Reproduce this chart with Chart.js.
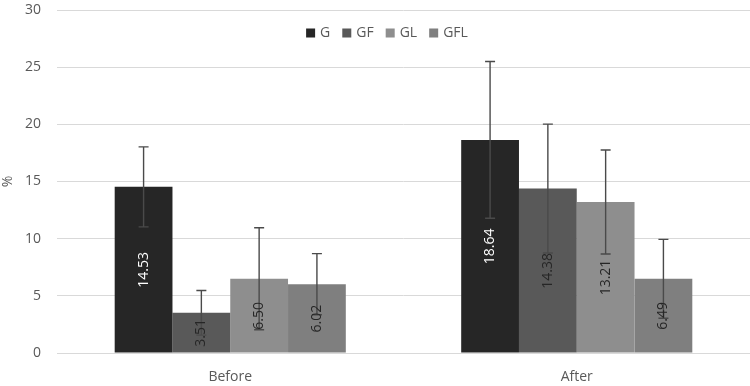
<!DOCTYPE html>
<html>
<head>
<meta charset="utf-8">
<script src="https://cdn.jsdelivr.net/npm/chart.js@4/dist/chart.umd.min.js"></script>
<style>
html,body{margin:0;padding:0;background:#fff;}
#wrap{width:750px;height:386px;position:relative;}
</style>
</head>
<body>
<div id="wrap"><canvas id="c" width="750" height="386"></canvas></div>
<script>
const categories = ["Before", "After"];
const seriesNames = ["G", "GF", "GL", "GFL"];
const valuesG   = [14.53, 18.64];
const valuesGF  = [3.51, 14.38];
const valuesGL  = [6.50, 13.21];
const valuesGFL = [6.02, 6.49];
const errG   = [3.5, 6.85];
const errGF  = [1.95, 5.64];
const errGL  = [4.46, 4.55];
const errGFL = [2.67, 3.45];
const yTicks = [0, 5, 10, 15, 20, 25, 30];

const colors = ["#262626", "#595959", "#8e8e8e", "#7f7f7f"];
const labelColors = ["#ffffff", "#262626", "#262626", "#262626"];
const allValues = [valuesG, valuesGF, valuesGL, valuesGFL];
const allErr = [errG, errGF, errGL, errGFL];

const FONT = "'Open Sans', 'Liberation Sans', sans-serif";

const overlay = {
  id: 'overlay',
  afterDatasetsDraw(chart) {
    const ctx = chart.ctx;
    const y = chart.scales.y;
    chart.data.datasets.forEach((ds, di) => {
      const meta = chart.getDatasetMeta(di);
      meta.data.forEach((bar, i) => {
        const v = ds.data[i];
        const e = ds.err[i];
        const x = bar.x;
        const yTop = y.getPixelForValue(v + e);
        const yBot = y.getPixelForValue(v - e);
        ctx.save();
        ctx.strokeStyle = '#4a4a4a';
        ctx.lineWidth = 1.4;
        ctx.beginPath();
        ctx.moveTo(x, yTop); ctx.lineTo(x, yBot);
        ctx.moveTo(x - 5, yTop); ctx.lineTo(x + 5, yTop);
        ctx.moveTo(x - 5, yBot); ctx.lineTo(x + 5, yBot);
        ctx.stroke();
        ctx.restore();
        const yMid = (y.getPixelForValue(v) + y.getPixelForValue(0)) / 2;
        ctx.save();
        ctx.translate(x, yMid);
        ctx.rotate(-Math.PI / 2);
        ctx.font = '14px ' + FONT;
        ctx.fillStyle = ds.labelColor;
        ctx.textAlign = 'center';
        ctx.textBaseline = 'middle';
        ctx.fillText(v.toFixed(2), 0, 0);
        ctx.restore();
      });
    });
    // legend
    ctx.save();
    ctx.font = '14px ' + FONT;
    const box = 9, gapBT = 5, gapItem = 12;
    const widths = chart.data.datasets.map(ds => box + gapBT + ctx.measureText(ds.label).width);
    const total = widths.reduce((a, b) => a + b, 0) + gapItem * (widths.length - 1);
    let lx = 387 - total / 2;
    const ly = 33;
    chart.data.datasets.forEach((ds, k) => {
      ctx.fillStyle = ds.backgroundColor;
      ctx.fillRect(lx, ly - 4.5, box, box);
      ctx.fillStyle = '#595959';
      ctx.textAlign = 'left';
      ctx.textBaseline = 'middle';
      ctx.fillText(ds.label, lx + box + gapBT, ly);
      lx += widths[k] + gapItem;
    });
    ctx.restore();
  }
};

new Chart(document.getElementById('c'), {
  type: 'bar',
  data: {
    labels: categories,
    datasets: seriesNames.map((n, k) => ({
      label: n,
      data: allValues[k],
      err: allErr[k],
      backgroundColor: colors[k],
      labelColor: labelColors[k],
      borderWidth: 0,
      categoryPercentage: 0.667,
      barPercentage: 1.0
    }))
  },
  options: {
    responsive: false,
    animation: false,
    devicePixelRatio: 1,
    layout: { padding: { top: 0, right: 0, bottom: 0, left: 0 } },
    plugins: {
      legend: { display: false },
      tooltip: { enabled: false }
    },
    scales: {
      x: {
        grid: { display: false, drawTicks: false },
        border: { display: true, color: '#d9d9d9' },
        ticks: { color: '#595959', font: { family: FONT, size: 14 }, padding: 16 },
        afterFit(s) { s.height = 33; }
      },
      y: {
        min: 0, max: 30,
        afterBuildTicks(s) { s.ticks = yTicks.map(v => ({ value: v })); },
        grid: { color: '#d9d9d9', drawTicks: false },
        border: { display: false },
        ticks: { color: '#595959', font: { family: FONT, size: 14 }, padding: 16 },
        title: { display: true, text: '%', color: '#595959', font: { family: FONT, size: 14 }, padding: { top: 0, bottom: 0 } },
        afterFit(s) { s.width = 57; s.paddingTop = 10; s.paddingBottom = 0; }
      }
    }
  },
  plugins: [overlay]
});
</script>
</body>
</html>
